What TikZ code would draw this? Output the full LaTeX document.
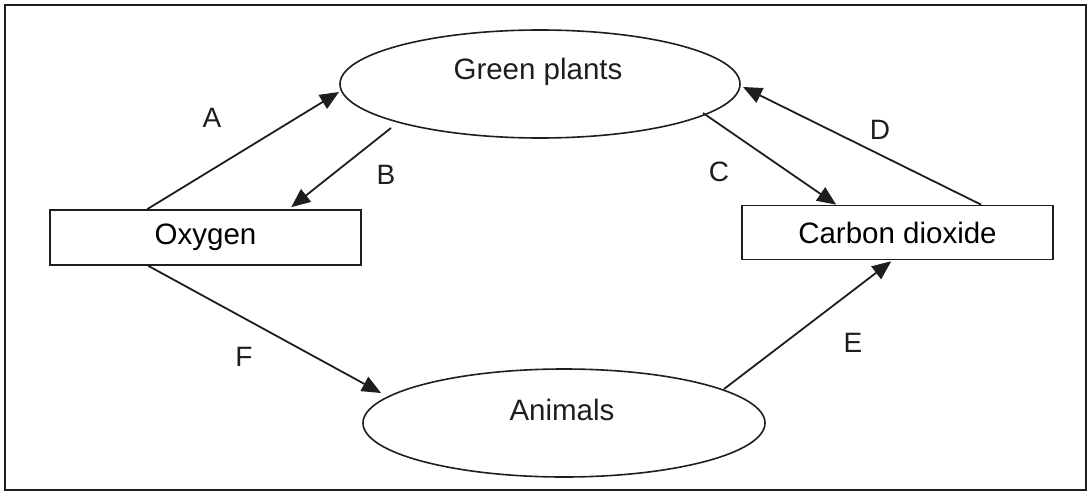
\documentclass[tikz,border=0pt]{standalone}
\usepackage{fontspec}
\setmainfont{Liberation Sans}
\usetikzlibrary{shapes.geometric,arrows.meta,calc}
\definecolor{ink}{HTML}{1E1E1E}
\begin{document}
\begin{tikzpicture}[x=1pt,y=-1pt,
  ell/.style={draw=ink, line width=1.6pt, ellipse, inner sep=0pt},
  boxnode/.style={draw=ink, line width=1.6pt, rectangle, inner sep=0pt,
    minimum width=311pt, minimum height=54pt, font=\fontsize{29.5}{34}\selectfont},
  txt/.style={inner sep=0pt, font=\fontsize{29.5}{34}\selectfont, text=ink},
  lab/.style={inner sep=0pt, font=\fontsize{28}{32}\selectfont, text=ink},
  flow/.style={draw=ink, line width=1.8pt, -{Triangle[length=19pt,width=16pt]}}]
\useasboundingbox (0,0) rectangle (1090,495);
\draw[ink, line width=1.6pt] (5,5) rectangle (1086,490);
% nodes
\node[ell, minimum width=400pt, minimum height=108pt] (gp) at (540,84) {};
\node[txt] (gpt) at (538,72) {Green plants};
\node[ell, minimum width=402pt, minimum height=108pt] (an) at (564,423) {};
\node[txt] (ant) at (562,410) {Animals};
\node[boxnode, minimum height=55pt] (ox) at (205.5,237.5) {Oxygen};
\node[boxnode] (co) at (897.5,232.5) {Carbon dioxide};
% connectors
\draw[flow] ($(ox.north west)+(98,0)$) -- ($(gp.center)+(-201,8)$);
\draw[flow] ($(gp.center)+(-149,44)$) -- ($(ox.north west)+(242,-2)$);
\draw[flow] ($(gp.center)+(163,29)$) -- ($(co.north west)+(95,0)$);
\draw[flow] ($(co.north west)+(240,0)$) -- ($(gp.center)+(203,3)$);
\draw[flow] ($(an.center)+(160,-34)$) -- ($(co.south west)+(150,1)$);
\draw[flow] ($(ox.south west)+(99,0)$) -- ($(an.center)+(-183,-30)$);
% labels
\node[lab] (la) at (212,118) {A};
\node[lab] (lb) at (386,175) {B};
\node[lab] (lc) at (719,172) {C};
\node[lab] (ld) at (880,130) {D};
\node[lab] (le) at (853,343) {E};
\node[lab] (lf) at (244,357) {F};
\end{tikzpicture}
\end{document}
